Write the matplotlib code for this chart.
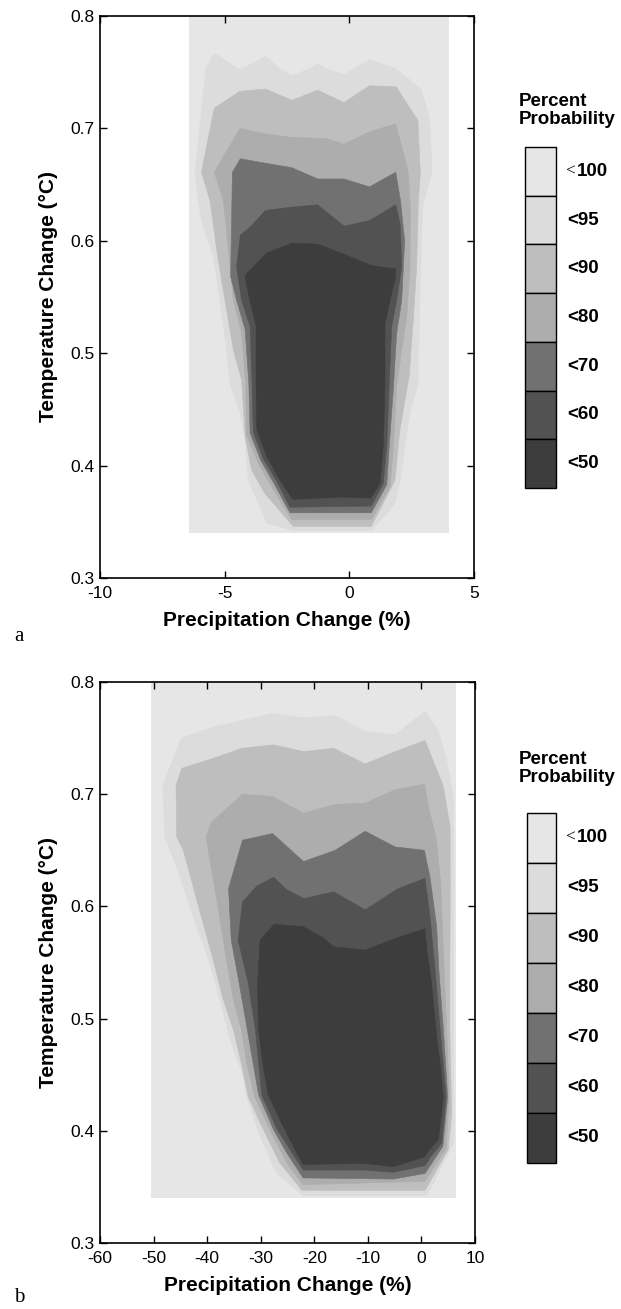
import matplotlib
matplotlib.use('Agg')
import matplotlib.pyplot as plt

# --- CONFIGURATION ---
plt.rcParams['font.family'] = ['Liberation Sans', 'DejaVu Sans']
plt.rcParams['axes.unicode_minus'] = False

W, H = 621, 1309

# --- DATA: contour levels (outer -> inner) ---
levels = ['<100', '<95', '<90', '<80', '<70', '<60', '<50']
shades = ['#e6e6e6', '#dcdcdc', '#bebebe', '#adadad', '#717171', '#525252', '#3d3d3d']

# panel a : precipitation change -10..5 %
a_bg_x = [-6.45, 4.0]
a_bg_y = [0.34, 0.80]

a95_x = [-6.19, -5.75, -5.42, -4.39, -3.36, -2.79, -2.30, -1.59, -1.27, -0.92, -0.21, 0.35, 0.81,
         1.88, 2.88, 3.22, 3.32, 2.95, 2.90, 2.83, 2.75, 2.43, 2.03, 1.83, 0.88, -2.25, -3.31,
         -4.05, -4.18, -4.38, -4.79, -4.92, -5.19, -5.45, -5.92, -6.06]
a95_y = [0.661, 0.753, 0.767, 0.752, 0.764, 0.753, 0.747, 0.753, 0.758, 0.753, 0.748, 0.755, 0.761,
         0.753, 0.735, 0.709, 0.661, 0.632, 0.607, 0.547, 0.472, 0.447, 0.387, 0.366, 0.342, 0.342, 0.349,
         0.387, 0.423, 0.447, 0.473, 0.503, 0.547, 0.586, 0.617, 0.636]

a90_x = [-5.93, -5.42, -4.39, -3.36, -2.30, -1.27, -0.21, 0.81, 1.88, 2.75, 2.85, 2.77, 2.70, 2.57,
         2.40, 2.03, 1.83, 0.88, -2.25, -3.38, -3.92, -4.18, -4.32, -4.65, -4.99, -5.32, -5.59]
a90_y = [0.661, 0.718, 0.733, 0.735, 0.725, 0.734, 0.723, 0.738, 0.737, 0.707, 0.660, 0.636, 0.577, 0.532,
         0.480, 0.432, 0.387, 0.346, 0.346, 0.375, 0.396, 0.426, 0.476, 0.503, 0.547, 0.592, 0.636]

a80_x = [-5.42, -4.39, -3.36, -2.30, -0.92, -0.21, 0.81, 1.86, 2.35, 2.45, 2.43, 2.30, 2.10,
         1.90, 1.77, 1.63, 0.88, -2.31, -3.11, -3.65, -4.12, -4.16, -4.32, -4.65, -4.85, -5.05]
a80_y = [0.661, 0.700, 0.695, 0.692, 0.691, 0.686, 0.697, 0.704, 0.663, 0.630, 0.577, 0.532, 0.503,
         0.470, 0.417, 0.381, 0.352, 0.352, 0.381, 0.402, 0.427, 0.473, 0.518, 0.547, 0.592, 0.636]

a70_x = [-4.69, -4.37, -3.36, -2.30, -1.27, -0.21, 0.81, 1.86, 2.05, 2.22, 2.10, 1.90, 1.77,
         1.60, 1.50, 0.88, -2.38, -3.02, -3.56, -3.98, -4.03, -4.18, -4.52, -4.76]
a70_y = [0.661, 0.673, 0.669, 0.665, 0.655, 0.655, 0.648, 0.661, 0.636, 0.600, 0.547, 0.518, 0.470,
         0.417, 0.383, 0.358, 0.358, 0.384, 0.405, 0.429, 0.473, 0.521, 0.547, 0.568]

a60_x = [-4.37, -3.99, -3.36, -2.30, -1.27, -0.21, 0.81, 1.86, 2.04, 2.10, 1.90, 1.70, 1.60,
         1.50, 1.36, 0.88, -2.38, -2.91, -3.45, -3.85, -3.90, -3.98, -4.32, -4.52]
a60_y = [0.605, 0.612, 0.627, 0.630, 0.632, 0.613, 0.618, 0.632, 0.615, 0.577, 0.547, 0.524, 0.473,
         0.417, 0.384, 0.364, 0.363, 0.386, 0.406, 0.430, 0.473, 0.524, 0.547, 0.577]

a50_x = [-4.19, -3.32, -2.30, -1.27, -0.21, 0.88, 1.86, 1.83, 1.63, 1.43, 1.43, 1.36, 1.23,
         0.86, -0.24, -2.27, -2.78, -3.31, -3.71, -3.74, -3.74, -4.05]
a50_y = [0.569, 0.589, 0.598, 0.597, 0.588, 0.578, 0.575, 0.565, 0.547, 0.526, 0.473, 0.417, 0.384,
         0.371, 0.372, 0.370, 0.387, 0.408, 0.432, 0.473, 0.524, 0.553]

# panel b : precipitation change -60..10 %
b_bg_x = [-50.5, 6.4]
b_bg_y = [0.34, 0.80]

b95_x = [-48.3, -44.75, -42.9, -38.8, -33.2, -27.8, -22.0, -16.1, -10.5, -4.9, 0.68, 3.16, 4.72,
         5.97, 6.1, 6.0, 6.1, 1.0, -22.05, -27.0, -30.1, -32.6, -33.6, -35.1, -36.2, -37.6,
         -39.5, -42.6, -45.1, -46.9, -47.9]
b95_y = [0.708, 0.750, 0.753, 0.760, 0.766, 0.772, 0.768, 0.770, 0.756, 0.753, 0.774, 0.756, 0.730,
         0.698, 0.620, 0.500, 0.390, 0.342, 0.342, 0.362, 0.395, 0.430, 0.454, 0.472, 0.490, 0.517,
         0.549, 0.591, 0.627, 0.650, 0.662]

b90_x = [-45.8, -44.75, -38.8, -33.5, -27.6, -22.0, -16.4, -10.5, -4.9, 0.68, 4.1, 5.35, 5.4,
         5.3, 5.3, 5.65, 5.0, 0.68, -22.3, -26.4, -29.5, -32.3, -33.6, -35.1, -37.0, -38.85,
         -41.95, -44.45, -45.7]
b90_y = [0.708, 0.723, 0.732, 0.741, 0.744, 0.738, 0.741, 0.727, 0.738, 0.748, 0.707, 0.671, 0.620,
         0.550, 0.490, 0.416, 0.383, 0.347, 0.347, 0.371, 0.401, 0.430, 0.460, 0.490, 0.517, 0.552,
         0.606, 0.650, 0.662]

b80_x = [-40.2, -39.2, -33.4, -27.8, -22.0, -16.1, -10.5, -4.9, 0.55, 1.3, 2.8, 3.6, 4.1,
         4.7, 5.2, 4.6, 0.68, -22.1, -25.1, -28.3, -31.1, -32.6, -33.6, -35.1, -36.4, -38.2, -39.8]
b80_y = [0.662, 0.675, 0.700, 0.698, 0.683, 0.691, 0.692, 0.704, 0.709, 0.689, 0.660, 0.620, 0.560,
         0.490, 0.430, 0.384, 0.355, 0.352, 0.371, 0.401, 0.430, 0.460, 0.490, 0.517, 0.552, 0.606, 0.650]

b70_x = [-33.4, -27.8, -22.0, -16.1, -10.5, -4.9, 0.55, 1.6, 2.85, 3.3, 4.1, 4.9, 4.0, 0.68,
         -5.2, -22.1, -25.1, -27.6, -30.4, -32.5, -34.0, -35.5, -36.0]
b70_y = [0.659, 0.665, 0.640, 0.650, 0.667, 0.653, 0.650, 0.626, 0.582, 0.540, 0.490, 0.430, 0.386, 0.362,
         0.357, 0.358, 0.380, 0.401, 0.432, 0.490, 0.531, 0.570, 0.616]

b60_x = [-33.4, -30.75, -27.6, -25.2, -21.9, -16.4, -10.5, -4.3, 0.67, 1.6, 2.5, 3.5, 4.6, 3.8,
         1.6, 0.68, -5.2, -10.8, -22.1, -24.5, -27.0, -29.8, -31.0, -32.3, -34.2]
b60_y = [0.604, 0.618, 0.626, 0.615, 0.607, 0.613, 0.597, 0.616, 0.625, 0.591, 0.546, 0.490, 0.430, 0.389,
         0.376, 0.369, 0.363, 0.365, 0.365, 0.383, 0.402, 0.432, 0.490, 0.531, 0.570]

b50_x = [-30.1, -27.5, -24.85, -22.05, -18.3, -16.4, -10.5, -4.6, 0.67, 1.0, 1.9, 2.85, 3.5, 4.1,
         3.16, 1.6, 0.68, -5.2, -10.8, -22.1, -23.9, -25.8, -28.6, -29.6, -30.4, -30.6]
b50_y = [0.570, 0.584, 0.583, 0.582, 0.572, 0.564, 0.561, 0.572, 0.580, 0.561, 0.531, 0.484, 0.460, 0.430,
         0.392, 0.384, 0.377, 0.368, 0.371, 0.370, 0.386, 0.404, 0.432, 0.460, 0.490, 0.531]

a_xticks = [-10, -5, 0, 5]
b_xticks = [-60, -50, -40, -30, -20, -10, 0, 10]
yticks = [0.3, 0.4, 0.5, 0.6, 0.7, 0.8]


def px_rect(left, top, right, bottom):
    return [left / W, 1 - bottom / H, (right - left) / W, (bottom - top) / H]


def draw_panel(fig, rect, bg_x, bg_y, polys, xlim, xticks):
    ax = fig.add_axes(rect)
    # background (<100) rectangle
    ax.fill([bg_x[0], bg_x[1], bg_x[1], bg_x[0]], [bg_y[0], bg_y[0], bg_y[1], bg_y[1]],
            color=shades[0], lw=0)
    # nested probability regions
    for (px, py), c in zip(polys, shades[1:]):
        ax.fill(px, py, facecolor=c, edgecolor=c, lw=0.4)
    ax.set_xlim(*xlim)
    ax.set_ylim(0.3, 0.8)
    ax.set_xticks(xticks)
    ax.set_yticks(yticks)
    ax.set_yticklabels([f'{v:.1f}' for v in yticks])
    ax.tick_params(direction='in', top=True, right=True, length=5, width=1, labelsize=12.5)
    ax.tick_params(axis='x', pad=6)
    ax.tick_params(axis='y', pad=4)
    for s in ax.spines.values():
        s.set_linewidth(1.2)
    ax.set_xlabel('Precipitation Change (%)', fontsize=15, fontweight='bold', labelpad=7)
    ax.set_ylabel('Temperature Change (\u00b0C)', fontsize=15, fontweight='bold', labelpad=9)
    return ax


def draw_legend(fig, left, top, right, bottom, title_y):
    lax = fig.add_axes(px_rect(left, top, right, bottom))
    n = len(levels)
    for i, c in enumerate(shades):
        lax.bar(0.5, 1, width=1, bottom=n - 1 - i, color=c, edgecolor='black', lw=1, clip_on=False)
    lax.set_xlim(0, 1)
    lax.set_ylim(0, n)
    lax.axis('off')
    cell = (bottom - top) / n
    for i, lab in enumerate(levels):
        yc = 1 - (top + cell * (i + 0.5)) / H
        if lab == '<100':
            # the "<" of the top label is set in a plain serif face
            fig.text(565 / W, yc, '<', family='Liberation Serif', fontsize=12.5, va='center', ha='left')
            fig.text(577 / W, yc, lab[1:], fontsize=13.5, fontweight='bold', va='center', ha='left')
        else:
            fig.text(567 / W, yc, lab, fontsize=13.5, fontweight='bold', va='center', ha='left')
    fig.text(519 / W, 1 - title_y / H, 'Percent', fontsize=13.5, fontweight='bold', va='center')
    fig.text(519 / W, 1 - (title_y + 18) / H, 'Probability', fontsize=13.5, fontweight='bold', va='center')


if __name__ == "__main__":
    fig = plt.figure(figsize=(W / 100, H / 100), dpi=100)

    polys_a = [(a95_x, a95_y), (a90_x, a90_y), (a80_x, a80_y),
               (a70_x, a70_y), (a60_x, a60_y), (a50_x, a50_y)]
    polys_b = [(b95_x, b95_y), (b90_x, b90_y), (b80_x, b80_y),
               (b70_x, b70_y), (b60_x, b60_y), (b50_x, b50_y)]

    draw_panel(fig, px_rect(100, 16, 474, 578), a_bg_x, a_bg_y, polys_a, (-10, 5), a_xticks)
    draw_panel(fig, px_rect(100, 682, 475, 1243), b_bg_x, b_bg_y, polys_b, (-60, 10), b_xticks)

    draw_legend(fig, 525, 147, 556, 488, 102)
    draw_legend(fig, 527, 813, 556, 1163, 760)

    fig.text(19 / W, 1 - 636 / H, 'a', family='Liberation Serif', fontsize=15, ha='center', va='center')
    fig.text(19 / W, 1 - 1298 / H, 'b', family='Liberation Serif', fontsize=15, ha='center', va='center')

    fig.savefig('out.png', dpi=100)
